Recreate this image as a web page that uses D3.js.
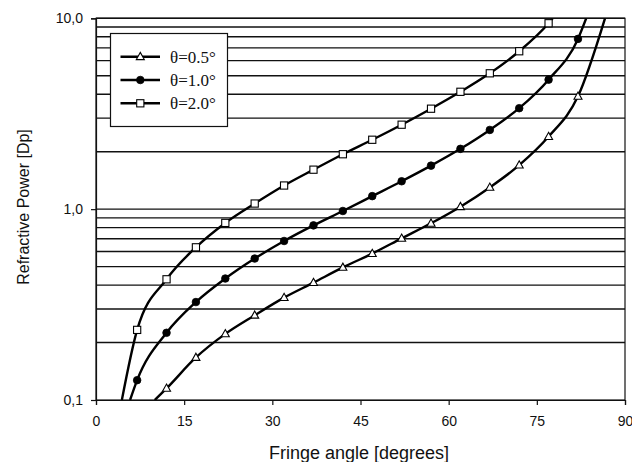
<!DOCTYPE html>
<html>
<head>
<meta charset="utf-8">
<script src="https://cdn.jsdelivr.net/npm/d3@7/dist/d3.min.js"></script>
<style>
  html, body { margin: 0; padding: 0; background: #fff; }
  svg { display: block; }
</style>
</head>
<body>
<svg id="chart" width="632" height="462"></svg>
<script>
// Fringe angle (degrees) at which each marker is plotted
const angles05 = [12, 17, 22, 27, 32, 37, 42, 47, 52, 57, 62, 67, 72, 77, 82];
const angles10 = [7, 12, 17, 22, 27, 32, 37, 42, 47, 52, 57, 62, 67, 72, 77, 82];
const angles20 = [7, 12, 17, 22, 27, 32, 37, 42, 47, 52, 57, 62, 67, 72, 77];

// Refractive power (Dp) at those angles
const power05 = [0.115, 0.167, 0.222, 0.278, 0.344, 0.412, 0.495, 0.585, 0.703, 0.843, 1.03, 1.30, 1.70, 2.40, 3.90];
const power10 = [0.127, 0.225, 0.326, 0.433, 0.551, 0.681, 0.822, 0.978, 1.17, 1.40, 1.69, 2.07, 2.60, 3.38, 4.77, 7.80];
const power20 = [0.233, 0.429, 0.631, 0.847, 1.07, 1.33, 1.61, 1.94, 2.31, 2.77, 3.36, 4.12, 5.15, 6.72, 9.42];

// Where each curve leaves the plot at the bottom and top edges [angle, power]
const ends05 = [[10.0, 0.1], [86.6, 10.0]];
const ends10 = [[5.8, 0.1], [83.4, 10.0]];
const ends20 = [[4.4, 0.1], [77.7, 10.0]];

const legendLabels = ["θ=0.5°", "θ=1.0°", "θ=2.0°"];
const xTicks = [0, 15, 30, 45, 60, 75, 90];
const yTicks = [0.1, 1, 10];
const yGrid = [0.2, 0.3, 0.4, 0.5, 0.6, 0.7, 0.8, 0.9, 1, 2, 3, 4, 5, 6, 7, 8, 9, 10];

const svg = d3.select("#chart");
const plotLeft = 96, plotRight = 625, plotTop = 18.3, plotBottom = 400;

const x = d3.scaleLinear().domain([0, 90]).range([plotLeft, plotRight]);
const y = d3.scaleLog().domain([0.1, 10]).range([plotBottom, plotTop]);

const sans = "'Liberation Sans', Arial, sans-serif";
const serif = "'Liberation Serif', 'Times New Roman', serif";

svg.append("defs").append("clipPath").attr("id", "plotClip")
  .append("rect").attr("x", plotLeft).attr("y", plotTop)
  .attr("width", plotRight - plotLeft).attr("height", plotBottom - plotTop);

// Horizontal grid at every decade step
svg.append("g").selectAll("line").data(yGrid).join("line")
  .attr("x1", plotLeft).attr("x2", plotRight)
  .attr("y1", d => y(d)).attr("y2", d => y(d))
  .attr("stroke", "#111").attr("stroke-width", 1.4);

// Plot frame
svg.append("rect")
  .attr("x", plotLeft).attr("y", plotTop)
  .attr("width", plotRight - plotLeft).attr("height", plotBottom - plotTop)
  .attr("fill", "none").attr("stroke", "#111").attr("stroke-width", 1.2);

// X axis
const xAxis = svg.append("g").attr("transform", `translate(0,${plotBottom})`)
  .call(d3.axisBottom(x).tickValues(xTicks).tickSize(5).tickPadding(11).tickFormat(d3.format("d")));
xAxis.select(".domain").attr("stroke", "#111").attr("stroke-width", 1.2);
xAxis.selectAll(".tick line").attr("stroke", "#111").attr("stroke-width", 1.2);
xAxis.selectAll(".tick text").attr("font-family", sans).attr("font-size", 14).attr("fill", "#111");

// Y axis
const yAxis = svg.append("g").attr("transform", `translate(${plotLeft},0)`)
  .call(d3.axisLeft(y).tickValues(yTicks).tickSize(5).tickPadding(8)
    .tickFormat(d => d3.format(".1f")(d).replace(".", ",")));
yAxis.select(".domain").attr("stroke", "#111").attr("stroke-width", 1.2);
yAxis.selectAll(".tick line").attr("stroke", "#111").attr("stroke-width", 1.2);
yAxis.selectAll(".tick text").attr("font-family", sans).attr("font-size", 14).attr("fill", "#111");

// Axis titles
svg.append("text")
  .attr("x", 359).attr("y", 459)
  .attr("text-anchor", "middle")
  .attr("font-family", sans).attr("font-size", 18).attr("fill", "#111")
  .text("Fringe angle [degrees]");

svg.append("text")
  .attr("transform", "translate(29,207) rotate(-90)")
  .attr("text-anchor", "middle")
  .attr("font-family", sans).attr("font-size", 16).attr("fill", "#111")
  .text("Refractive Power [Dp]");

// Curves
const series = [
  { angles: angles05, power: power05, ends: ends05, marker: "triangle" },
  { angles: angles10, power: power10, ends: ends10, marker: "circle" },
  { angles: angles20, power: power20, ends: ends20, marker: "square" }
];

const line = d3.line()
  .x(d => x(d[0])).y(d => y(d[1]))
  .curve(d3.curveMonotoneX);

const plot = svg.append("g").attr("clip-path", "url(#plotClip)");

series.forEach(s => {
  const pts = [s.ends[0], ...s.angles.map((a, i) => [a, s.power[i]]), s.ends[1]];
  plot.append("path")
    .attr("d", line(pts))
    .attr("fill", "none").attr("stroke", "#000").attr("stroke-width", 2.4)
    .attr("stroke-linejoin", "round");
});

function drawMarker(g, type, cx, cy) {
  if (type === "circle") {
    g.append("circle").attr("cx", cx).attr("cy", cy).attr("r", 3.8)
      .attr("fill", "#000").attr("stroke", "#000").attr("stroke-width", 0.8);
  } else if (type === "square") {
    g.append("rect").attr("x", cx - 3.6).attr("y", cy - 3.6)
      .attr("width", 7.2).attr("height", 7.2)
      .attr("fill", "#fff").attr("stroke", "#000").attr("stroke-width", 1.1);
  } else {
    const h = 7.2, w = 8;
    g.append("path")
      .attr("d", `M${cx},${cy - h * 0.6} L${cx + w / 2},${cy + h * 0.4} L${cx - w / 2},${cy + h * 0.4} Z`)
      .attr("fill", "#fff").attr("stroke", "#000").attr("stroke-width", 1.1);
  }
}

const markers = svg.append("g");
series.forEach(s => {
  s.angles.forEach((a, i) => drawMarker(markers, s.marker, x(a), y(s.power[i])));
});

// Legend
const lg = svg.append("g");
lg.append("rect")
  .attr("x", 110.5).attr("y", 33.5).attr("width", 117).attr("height", 93)
  .attr("fill", "#fff").attr("stroke", "#111").attr("stroke-width", 1.2);
const legendRows = [56.7, 80, 103.3];
const legendMarkers = ["triangle", "circle", "square"];
legendLabels.forEach((lab, i) => {
  const ry = legendRows[i];
  lg.append("line").attr("x1", 120.5).attr("x2", 160).attr("y1", ry).attr("y2", ry)
    .attr("stroke", "#000").attr("stroke-width", 2.4);
  drawMarker(lg, legendMarkers[i], 140.3, ry);
  lg.append("text").attr("x", 170).attr("y", ry + 6)
    .attr("font-family", serif).attr("font-size", 17).attr("fill", "#111")
    .text(lab);
});
</script>
</body>
</html>
